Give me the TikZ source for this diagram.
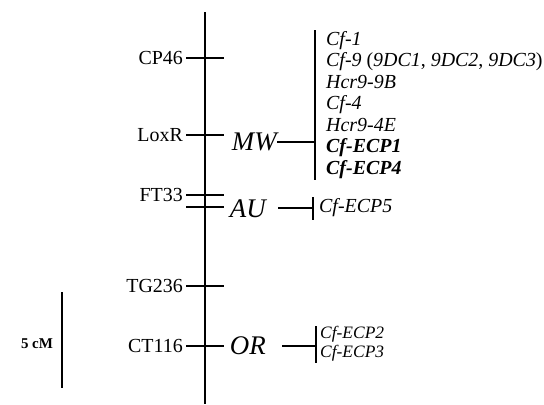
\documentclass[tikz,border=0pt]{standalone}
\usepackage{fontspec}
\setmainfont{Liberation Serif}
\usetikzlibrary{positioning}

\begin{document}
\begin{tikzpicture}[
    x=1bp, y=-1bp,
    bar/.style={line width=2.6bp},
    marker/.style={anchor=east, inner sep=0pt, font=\fontsize{20}{22}\selectfont},
    qtl/.style={anchor=east, inner sep=0pt, font=\fontsize{27}{30}\selectfont\itshape},
    genes/.style={anchor=west, inner sep=0pt, align=left,
                  font=\fontsize{20}{21.6}\selectfont\itshape},
    smallgenes/.style={genes, font=\fontsize{17.5}{19}\selectfont\itshape},
]
    \useasboundingbox (0,0) rectangle (544,404);

    % chromosome
    \coordinate (top) at (205,12);
    \coordinate (bot) at (205,404);
    \draw[bar] (top) -- (bot);

    % markers and their ticks
    \foreach \name/\y/\txt in {cp46/58/CP46, loxr/135/LoxR, ft33/195/FT33,
                               tg236/286/TG236, ct116/346/CT116} {
        \node[marker] (\name) at (183,\y) {\txt};
        \coordinate (\name-l) at (186,\y);
        \coordinate (\name-r) at (224,\y);
        \draw[bar] (\name-l) -- (\name-r);
    }
    \coordinate (au-l) at (186,207);
    \coordinate (au-r) at (224,207);
    \draw[bar] (au-l) -- (au-r);

    % MW locus
    \node[qtl] (mw) at (277,142) {MW};
    \coordinate (mw-b) at (315,142);
    \coordinate (mw-t) at (315,30);
    \coordinate (mw-d) at (315,180);
    \draw[bar] (mw.east) -- (mw-b);
    \draw[bar] (mw-t) -- (mw-d);
    \node[genes] (mwgenes) at (326,105) {Cf-1\\
        Cf-9 \upshape(\itshape9DC1\upshape, \itshape9DC2\upshape, \itshape9DC3\upshape)\\
        Hcr9-9B\\ Cf-4\\ Hcr9-4E\\ \bfseries Cf-ECP1\\ \bfseries Cf-ECP4};

    % AU locus
    \node[qtl] (au) at (266,209) {AU};
    \coordinate (au-b) at (313,208);
    \coordinate (au-t) at (313,197);
    \coordinate (au-d) at (313,220);
    \draw[bar] (au.east |- au-b) ++(12,0) -- (au-b);
    \draw[bar] (au-t) -- (au-d);
    \node[genes] (augenes) at (319,208) {Cf-ECP5};

    % OR locus
    \node[qtl] (or) at (266,346) {OR};
    \coordinate (or-b) at (316,346);
    \coordinate (or-t) at (316,326);
    \coordinate (or-d) at (316,363);
    \draw[bar] (or.east) ++(16,0) -- (or-b);
    \draw[bar] (or-t) -- (or-d);
    \node[smallgenes] (orgenes) at (320,344) {Cf-ECP2\\ Cf-ECP3};

    % scale bar
    \node[font=\fontsize{15}{17}\selectfont\bfseries] (scale) at (37,344) {5 cM};
    \coordinate (sc-t) at (62,292);
    \coordinate (sc-d) at (62,388);
    \draw[bar] (sc-t) -- (sc-d);
\end{tikzpicture}
\end{document}
